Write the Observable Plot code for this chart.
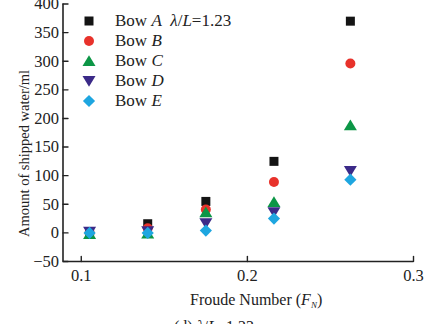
<!DOCTYPE html>
<html>
<head>
<meta charset="utf-8">
<script src="https://cdn.jsdelivr.net/npm/d3@7"></script>
<script src="https://cdn.jsdelivr.net/npm/@observablehq/plot@0.6"></script>
<style>
  html, body { margin: 0; padding: 0; background: #fff; }
  #wrap { position: relative; width: 432px; height: 324px; overflow: hidden; font-family: "Liberation Serif", "Times New Roman", serif; color: #222; }
  .lbl { position: absolute; font-size: 16px; line-height: 16px; white-space: nowrap; }
  i { font-style: italic; }
</style>
</head>
<body>
<div id="wrap"></div>
<script>
// ---- data ----
const froude = [0.105, 0.14, 0.175, 0.216, 0.262];
const bowA = [1, 16, 55, 125, 370];
const bowB = [0, 8, 41, 89, 296];
const bowC = [-2, -1, 36, 54, 188];
const bowD = [2, 3, 17, 36, 108];
const bowE = [0, 0, 4, 25, 93];
const seriesNames = ["Bow A", "Bow B", "Bow C", "Bow D", "Bow E"];
const seriesLetters = ["A", "B", "C", "D", "E"];
const seriesColors = ["#141414", "#e8322b", "#0c9646", "#3b2a88", "#1ea6e0"];
const yTicks = [-50, 0, 50, 100, 150, 200, 250, 300, 350, 400];
const xTicks = [0.1, 0.2, 0.3];
const xDomain = [0.089, 0.3];
const yDomain = [-50, 400];

// ---- symbols ----
const rOf = s => Math.sqrt(s / Math.PI);
const symSquare = {draw(c, s){ const r = rOf(s)*0.9; c.rect(-r, -r, 2*r, 2*r); }};
const symCircle = {draw(c, s){ const r = rOf(s); c.moveTo(r,0); c.arc(0,0,r,0,2*Math.PI); }};
const symTriUp = {draw(c, s){ const r = rOf(s); c.moveTo(0,-1.15*r); c.lineTo(1.3*r,1.0*r); c.lineTo(-1.3*r,1.0*r); c.closePath(); }};
const symTriDown = {draw(c, s){ const r = rOf(s); c.moveTo(0,1.15*r); c.lineTo(1.3*r,-1.0*r); c.lineTo(-1.3*r,-1.0*r); c.closePath(); }};
const symDiamond = {draw(c, s){ const r = rOf(s)*1.22; c.moveTo(0,-r); c.lineTo(r,0); c.lineTo(0,r); c.lineTo(-r,0); c.closePath(); }};
const symbols = [symSquare, symCircle, symTriUp, symTriDown, symDiamond];

const allValues = [bowA, bowB, bowC, bowD, bowE];
const rows = [];
allValues.forEach((vals, si) => vals.forEach((v, i) => rows.push({series: seriesNames[si], si, fn: froude[i], v})));

const tickShape = {draw(c, l){ c.moveTo(0,0); c.lineTo(0,-l); }};
const axisColor = "#222";

const marks = [
  // axis lines
  Plot.ruleX([xDomain[0]], {y1: yDomain[0], y2: yDomain[1], stroke: axisColor, strokeWidth: 1.6}),
  Plot.ruleY([yDomain[0]], {x1: xDomain[0], x2: xDomain[1], stroke: axisColor, strokeWidth: 1.6}),
  // inward ticks
  Plot.vector(yTicks, {x: () => xDomain[0], y: d => d, length: 5, rotate: 90, anchor: "start", shape: tickShape, stroke: axisColor, strokeWidth: 1.4}),
  Plot.vector(xTicks, {x: d => d, y: () => yDomain[0], length: 5, rotate: 0, anchor: "start", shape: tickShape, stroke: axisColor, strokeWidth: 1.4}),
  // tick labels
  Plot.axisY({ticks: yTicks, tickSize: 0, tickPadding: 4, label: null, tickFormat: d => d < 0 ? "\u2212" + (-d) : String(d)}),
  Plot.axisX({ticks: xTicks, tickSize: 0, tickPadding: 8, label: null, tickFormat: d => d.toFixed(1)}),
];
// data points, one mark per series so order A..E stacks properly
seriesNames.forEach((name, si) => {
  marks.push(Plot.dot(rows.filter(d => d.si === si), {x: "fn", y: "v", r: 5, symbol: () => symbols[si], fill: seriesColors[si], stroke: "none"}));
});
// legend symbols
seriesNames.forEach((name, si) => {
  marks.push(Plot.dot([name], {frameAnchor: "top-left", dx: 26, dy: 17 + si * 20, r: 5, symbol: () => symbols[si], fill: seriesColors[si], stroke: "none"}));
});

const chart = Plot.plot({
  width: 432, height: 324,
  marginLeft: 62.5, marginRight: 19, marginTop: 3.5, marginBottom: 63,
  x: {domain: xDomain, axis: null},
  y: {domain: yDomain, axis: null},
  style: {fontFamily: "'Liberation Serif', 'Times New Roman', serif", fontSize: "16.5px", color: axisColor, background: "#fff"},
  marks
});
const wrap = document.getElementById("wrap");
wrap.appendChild(chart);

function addLabel(html, css) {
  const d = document.createElement("div");
  d.className = "lbl";
  d.innerHTML = html;
  Object.assign(d.style, css);
  wrap.appendChild(d);
  return d;
}
// legend text
seriesNames.forEach((name, si) => {
  const extra = si === 0 ? '&nbsp;&nbsp;<i>λ</i>/<i>L</i>=1.23' : '';
  addLabel('Bow <i>' + seriesLetters[si] + '</i>' + extra, {left: "115px", top: (12.5 + si * 20) + "px", fontSize: "17px"});
});
// y axis title (rotated, reading upward, starting near y=236)
addLabel('Amount of shipped water/ml', {left: "16px", top: "237px", fontSize: "14.5px", transformOrigin: "0 0", transform: "rotate(-90deg)"});
// x axis title
addLabel('Froude Number (<i>F</i><sub style="font-size:9px;vertical-align:-3px"><i>N</i></sub>)', {left: "190px", top: "292px"});
// caption (clipped at the bottom)
addLabel('(d) <i>λ</i>/<i>L</i>=1.23', {left: "174px", top: "319px"});
</script>
</body>
</html>
